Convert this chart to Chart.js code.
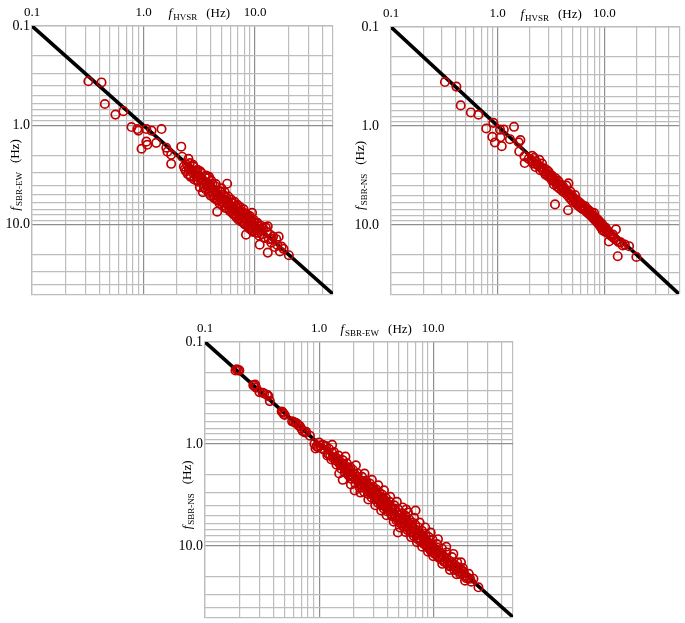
<!DOCTYPE html>
<html>
<head>
<meta charset="utf-8">
<script src="https://cdn.jsdelivr.net/npm/chart.js@4/dist/chart.umd.min.js"></script>
<style>
  body { margin: 0; background: #fff; }
  #wrap { position: relative; width: 685px; height: 623px; }
  canvas { position: absolute; }
</style>
</head>
<body>
<div id="wrap">
  <canvas id="chartA" width="340" height="300" style="left:0;top:0"></canvas>
  <canvas id="chartB" width="345" height="300" style="left:340px;top:0"></canvas>
  <canvas id="chartC" width="360" height="313" style="left:160px;top:310px"></canvas>
</div>
<script>
// log grid (0.1 .. 50 Hz) and the labelled ticks
const gridValues = [0.1, 0.2, 0.3, 0.4, 0.5, 0.6, 0.7, 0.8, 0.9,
  1, 2, 3, 4, 5, 6, 7, 8, 9, 10, 20, 30, 40, 50];
const tickValues = [0.1, 1, 10];
const tickLabels = ['0.1', '1.0', '10.0'];
const oneToOne = [0.1, 50];

// panel A: f_HVSR vs f_SBR-EW
const hvsrA = [0.32, 0.42, 0.45, 0.56, 0.66, 0.78, 0.88, 0.90, 1.06, 1.18, 1.45, 1.06, 0.96, 1.08, 1.30, 1.60, 1.64, 1.77, 2.18, 1.77, 2.22, 2.53,
  2.3, 2.4, 2.45, 2.5, 2.55, 2.6, 2.65, 2.7, 2.75, 2.8, 2.85, 2.9, 2.95, 3.0,
  3.05, 3.1, 3.15, 3.2, 3.25, 3.3, 3.4, 3.45, 3.5, 3.55, 3.6, 3.7, 3.75, 3.8, 3.87, 3.9, 3.95, 4.0,
  4.1, 4.15, 4.2, 4.3, 4.35, 4.4, 4.5, 4.58, 4.6, 4.7, 4.8, 4.85, 4.9, 5.0, 5.05, 5.1, 5.2, 5.3, 5.4, 5.5, 5.62,
  5.6, 5.7, 5.8, 5.9, 6.0, 6.1, 6.2, 6.3, 6.4, 6.5, 6.6, 6.7, 6.8, 6.9, 7.0, 7.1, 7.1, 7.3, 7.4, 7.5, 7.6, 7.8, 7.9, 8.0,
  8.1, 8.2, 8.3, 8.4, 8.5, 8.6, 8.8, 8.9, 9.0, 9.1, 9.3, 9.4, 9.5, 9.6, 9.8, 10.0, 10.2, 10.4, 10.6, 10.8, 11.0, 11.2, 11.5, 11.8, 12.0, 12.5, 12.8, 13.0, 13.0,
  13.3, 13.6, 14.0, 14.5, 15.0, 15.5, 16.3, 16.7, 17.3, 20.1,
  2.35, 2.62, 2.78, 3.02, 3.22, 3.48, 3.65, 3.85, 4.05, 4.25, 4.45, 4.65, 4.95, 5.15, 5.35, 5.55, 5.75, 5.95, 6.15, 6.35,
  6.55, 6.75, 6.95, 7.2, 7.4, 7.7, 7.9, 8.15, 8.45, 8.75, 9.05, 9.35, 9.7, 10.1, 10.5, 10.9, 11.4, 12.2, 14.2, 15.8, 18.0];
const sbrEwA = [0.36, 0.37, 0.61, 0.78, 0.72, 1.04, 1.09, 1.13, 1.09, 1.13, 1.09, 1.46, 1.72, 1.57, 1.50, 1.68, 1.84, 1.98, 1.64, 2.44, 2.07, 2.17,
  2.6, 2.9, 2.5, 3.1, 2.7, 2.4, 3.3, 2.8, 3.0, 2.6, 3.5, 3.1, 2.9, 3.3,
  2.8, 3.7, 3.2, 4.2, 3.4, 3.0, 4.7, 3.6, 3.9, 3.3, 4.4, 3.8, 4.1, 3.4, 3.3, 4.6, 4.0, 5.1,
  4.3, 3.9, 4.8, 5.4, 4.5, 4.1, 5.6, 7.4, 4.9, 5.2, 6.1, 4.6, 5.5, 4.3, 5.8, 6.4, 5.0, 5.6, 6.8, 5.3, 3.87,
  6.2, 5.9, 6.0, 7.0, 6.5, 5.6, 7.5, 6.8, 6.1, 7.9, 7.2, 6.6, 8.4, 7.4, 6.9, 7.6, 8.9, 8.1, 7.2, 9.3, 8.0, 7.6, 8.7, 9.8,
  8.3, 7.7, 12.6, 9.1, 10.2, 8.6, 9.5, 11.0, 8.2, 10.0, 9.0, 7.6, 10.6, 11.8, 9.4, 10.3, 11.3, 9.7, 12.1, 10.4, 15.9, 11.0, 12.5, 10.8, 13.4, 10.7, 11.9, 19.1, 10.4,
  14.0, 12.6, 15.2, 13.2, 16.8, 14.0, 13.2, 18.6, 16.6, 20.3,
  2.75, 3.2, 2.5, 3.6, 2.9, 4.2, 3.2, 4.8, 3.6, 5.1, 3.9, 5.7, 4.7, 6.0, 4.7, 6.7, 5.2, 7.3, 6.0, 7.8,
  5.9, 8.0, 6.3, 8.6, 6.7, 9.4, 7.0, 10.0, 7.9, 10.6, 8.6, 11.4, 8.9, 12.0, 9.6, 12.9, 10.3, 13.6, 13.9, 16.0, 17.5];

// panel B: f_HVSR vs f_SBR-NS
const hvsrB = [0.32, 0.41, 0.45, 0.56, 0.66, 0.91, 0.78, 1.05, 1.14, 1.42, 0.89, 0.94, 1.09, 1.06, 1.30, 1.57, 1.63, 1.59, 1.78, 1.79, 1.95,
  2.05, 2.1, 2.15, 2.2, 2.25, 2.3, 2.4, 2.45, 2.5, 2.55, 2.6, 2.7, 2.75, 2.8, 2.9, 2.95,
  3.0, 3.05, 3.1, 3.2, 3.25, 3.3, 3.35, 3.44, 3.5, 3.55, 3.6, 3.7, 3.8, 3.9, 4.0, 4.1, 4.2, 4.3, 4.4, 4.5,
  4.56, 4.6, 4.6, 4.7, 4.8, 4.9, 5.0, 5.1, 5.2, 5.3, 5.4, 5.5, 5.6, 5.8, 5.9, 6.0, 6.2, 6.3, 6.5, 6.6, 6.8, 7.0,
  7.1, 7.2, 7.4, 7.6, 7.8, 8.0, 8.0, 8.2, 8.4, 8.6, 8.8, 9.0, 9.1, 9.3, 9.5, 9.6, 9.8, 10.0, 10.2, 10.5,
  10.7, 11.0, 11.2, 11.6, 12.0, 12.4, 12.8, 13.0, 13.3, 13.6, 14.2, 14.8, 15.5, 17.0, 19.9,
  2.12, 2.35, 2.62, 2.85, 3.15, 3.42, 3.75, 4.05, 4.35, 4.65, 4.95, 5.25, 5.65, 6.05, 6.45, 6.9, 7.3, 7.7, 8.1, 8.5,
  8.9, 9.4, 9.9, 10.4, 11.4, 12.2];
const sbrNsB = [0.36, 0.40, 0.62, 0.73, 0.77, 0.93, 1.06, 1.09, 1.09, 1.02, 1.29, 1.47, 1.60, 1.30, 1.36, 1.46, 1.39, 1.81, 2.03, 2.37, 2.15,
  2.2, 2.0, 2.4, 2.1, 2.6, 2.3, 2.5, 2.2, 2.8, 2.6, 2.4, 2.9, 2.7, 3.1, 2.8, 3.2,
  2.9, 3.3, 3.1, 3.5, 3.2, 3.6, 3.9, 6.2, 3.4, 3.8, 4.1, 3.6, 4.3, 3.9, 4.5, 4.1, 4.7, 4.4, 4.0, 5.0,
  7.1, 3.8, 4.8, 5.3, 4.6, 5.6, 5.1, 5.9, 5.4, 5.0, 6.0, 5.6, 6.3, 5.9, 6.6, 6.1, 6.9, 6.4, 7.0, 6.5, 7.4, 7.0,
  7.7, 7.2, 8.0, 7.5, 8.5, 7.6, 8.2, 9.0, 8.6, 9.5, 9.0, 10.1, 9.4, 10.6, 9.8, 11.3, 10.4, 11.6, 10.6, 12.0,
  11.4, 14.7, 12.4, 13.0, 12.5, 13.8, 11.1, 14.3, 20.7, 14.9, 15.0, 16.1, 15.8, 16.4, 21.1,
  2.3, 2.45, 2.75, 3.0, 3.3, 3.55, 3.95, 4.25, 4.6, 4.9, 5.2, 5.6, 5.95, 6.4, 6.85, 7.25, 7.7, 8.1, 8.6, 9.1,
  9.6, 10.1, 10.8, 11.2, 12.6, 13.4];

// panel C: f_SBR-EW vs f_SBR-NS
const sbrEwC = [0.185, 0.19, 0.195, 0.2, 0.265, 0.27, 0.275, 0.28, 0.30, 0.32, 0.33, 0.35, 0.36, 0.37, 0.47, 0.48, 0.49, 0.50,
  0.58, 0.60, 0.62, 0.64, 0.66, 0.68, 0.70, 0.72, 0.75, 0.77, 0.83, 0.91, 0.95, 0.98, 1.0, 1.02, 1.05, 1.08, 0.93, 1.1,
  1.2, 1.25, 1.3, 1.33, 1.38, 1.4, 1.45, 1.5, 1.52, 1.55, 1.6, 1.61, 1.65, 1.7, 1.72, 1.78, 1.8, 1.85, 1.9, 1.95, 2.0,
  2.05, 2.05, 2.1, 2.15, 2.2, 2.25, 2.3, 2.35, 2.4, 2.45, 2.5, 2.55, 2.6, 2.65, 2.7, 2.75, 2.8, 2.85, 2.9, 2.95, 3.0, 3.05, 3.1, 3.15, 3.2, 3.25, 3.3, 3.4, 3.45,
  3.5, 3.55, 3.6, 3.65, 3.7, 3.75, 3.8, 3.9, 3.95, 4.0, 4.1, 4.2, 4.25, 4.3, 4.4, 4.5, 4.6, 4.7, 4.8, 4.9, 4.9, 5.0, 5.1, 5.2, 5.3, 5.4, 5.5, 5.6, 5.7, 5.8, 5.8,
  6.0, 6.1, 6.2, 6.4, 6.5, 6.6, 6.8, 7.0, 7.0, 7.1, 7.3, 7.4, 7.6, 7.8, 8.0, 8.2, 8.3, 8.5, 8.7, 8.9, 9.0, 9.2, 9.4, 9.6, 9.8, 10.0,
  10.2, 10.5, 10.7, 11.0, 11.2, 11.5, 11.8, 12.0, 12.3, 12.6, 13.0, 13.3, 13.7, 14.0, 14.5, 15.0, 15.5, 16.0, 16.5, 17.0, 17.5, 18.0, 18.5, 19.0, 20.0, 21.0, 24.9,
  1.15, 1.18, 1.22, 1.28, 1.35, 1.42, 1.48, 1.56, 1.62, 1.68, 1.75, 1.82, 1.88, 1.92, 1.98,
  2.08, 2.18, 2.28, 2.38, 2.48, 2.58, 2.68, 2.78, 2.88, 2.98, 3.08, 3.18, 3.28, 3.38, 3.48,
  3.58, 3.68, 3.85, 3.98, 4.15, 4.35, 4.55, 4.75, 4.95, 5.15, 5.35, 5.55, 5.75, 5.95,
  6.15, 6.35, 6.55, 6.75, 6.95, 7.2, 7.45, 7.7, 7.95, 8.25, 8.55, 8.85, 9.15, 9.5, 9.85, 10.3,
  10.8, 11.3, 11.9, 12.5, 13.1, 13.8, 14.6, 15.3, 16.2, 17.2, 18.2, 19.5, 20.5, 21.5, 22.5,
  1.3, 1.5, 1.7, 1.9, 2.1, 2.3, 2.5, 2.7, 2.9, 3.1, 3.3, 3.5, 3.7, 3.9, 4.2, 4.5, 4.8, 5.1, 5.4,
  5.7, 6.0, 6.4, 6.8, 7.2, 7.6, 8.0, 8.5, 9.0, 9.5, 10.0, 11.0, 12.0, 13.0, 14.0, 15.0, 16.0, 17.5, 19.0];
const sbrNsC = [0.19, 0.185, 0.19, 0.19, 0.265, 0.27, 0.262, 0.28, 0.31, 0.315, 0.32, 0.33, 0.34, 0.38, 0.48, 0.49, 0.51, 0.52,
  0.6, 0.61, 0.62, 0.63, 0.66, 0.67, 0.71, 0.75, 0.77, 0.76, 0.83, 1.0, 1.05, 1.08, 0.97, 1.04, 1.1, 1.02, 1.11, 1.14,
  1.25, 1.3, 1.22, 1.38, 1.35, 1.45, 1.4, 1.55, 1.48, 1.62, 1.57, 2.25, 1.7, 1.66, 1.8, 1.75, 1.9, 1.82, 2.0, 1.92, 2.1,
  2.86, 1.98, 2.2, 2.1, 2.35, 2.25, 2.5, 2.3, 2.55, 2.4, 2.7, 2.55, 2.45, 2.85, 2.7, 2.6, 3.0, 2.8, 3.1, 2.75, 3.2, 3.0, 2.9, 3.35, 3.1, 3.5, 3.2, 3.6, 3.3,
  3.8, 3.5, 3.4, 3.9, 3.7, 4.1, 3.6, 4.2, 3.9, 4.4, 4.0, 4.6, 4.2, 4.9, 4.4, 4.8, 4.3, 5.2, 4.7, 7.4, 5.5, 5.0, 5.6, 5.3, 6.0, 5.4, 5.9, 5.5, 6.3, 4.4, 5.9,
  6.5, 6.0, 6.9, 6.4, 7.2, 6.7, 7.5, 4.5, 7.0, 7.9, 7.4, 8.3, 7.7, 8.7, 8.0, 9.1, 8.4, 9.6, 8.8, 10.0, 9.2, 10.5, 9.6, 11.0, 10.1, 11.5,
  10.5, 12.0, 11.0, 12.6, 11.5, 13.1, 12.0, 13.7, 12.6, 14.2, 13.2, 14.8, 13.9, 15.5, 14.8, 16.0, 15.4, 17.0, 16.2, 17.8, 17.0, 18.8, 18.0, 19.5, 20.5, 21.0, 25.5,
  1.05, 1.3, 1.12, 1.42, 1.2, 1.6, 1.3, 1.75, 1.45, 1.9, 1.55, 2.05, 1.7, 2.2, 1.8,
  2.45, 1.95, 2.7, 2.1, 2.95, 2.3, 3.1, 2.45, 3.35, 2.65, 3.5, 2.8, 3.8, 3.0, 4.0,
  3.15, 4.3, 3.4, 4.6, 3.7, 5.1, 4.0, 5.6, 4.4, 6.0, 4.8, 6.5, 5.1, 7.0,
  5.5, 7.4, 5.9, 8.0, 6.2, 8.5, 6.6, 9.0, 7.1, 9.6, 7.6, 10.3, 8.2, 11.2, 8.7, 12.0,
  9.6, 13.2, 10.6, 14.4, 11.6, 15.8, 12.9, 17.2, 14.5, 18.9, 16.5, 20.8, 18.8, 22.5, 21.0,
  1.02, 1.95, 1.33, 2.5, 1.62, 3.0, 1.95, 3.5, 2.25, 4.0, 2.55, 4.5, 2.85, 5.0, 3.3, 5.8, 3.7, 6.6, 4.2,
  7.3, 4.7, 8.2, 5.3, 9.2, 5.9, 10.2, 6.6, 11.4, 7.4, 12.6, 8.6, 15.0, 10.2, 17.2, 12.0, 19.0, 14.5, 22.0];

const gridMajor = '#8e8e8e';
const gridMinor = '#bdbdbd';
const serif = '"Liberation Serif", "DejaVu Serif", serif';

function pairs(xs, ys) {
  return xs.map((v, i) => ({ x: v, y: ys[i] }));
}

function drawTitle(ctx, sub, cx, cy, rot) {
  const big = '13px ' + serif;
  const ital = 'italic 13px ' + serif;
  const small = '9px ' + serif;
  ctx.save();
  ctx.font = ital; const wf = ctx.measureText('f').width;
  ctx.font = small; const ws = ctx.measureText(sub).width;
  ctx.font = big; const wh = ctx.measureText('(Hz)').width;
  const gap = 9;
  const total = wf + 1 + ws + gap + wh;
  ctx.translate(cx, cy);
  ctx.rotate(rot);
  ctx.fillStyle = '#000';
  ctx.textBaseline = 'alphabetic';
  ctx.textAlign = 'left';
  let x0 = -total / 2;
  ctx.font = ital; ctx.fillText('f', x0, 0);
  x0 += wf + 1;
  ctx.font = small; ctx.fillText(sub, x0, 3);
  x0 += ws + gap;
  ctx.font = big; ctx.fillText('(Hz)', x0, 0);
  ctx.restore();
}

const axisTitles = {
  id: 'axisTitles',
  afterDraw(chart, args, opts) {
    const { ctx, chartArea, scales } = chart;
    const mid = Math.sqrt(10);
    drawTitle(ctx, opts.xSub, scales.x.getPixelForValue(mid), chartArea.top - 9, 0);
    drawTitle(ctx, opts.ySub, chartArea.left - opts.yGap, scales.y.getPixelForValue(mid), -Math.PI / 2);
  }
};

function logAxis(pos, size, pad, fontSize) {
  return {
    type: 'logarithmic',
    position: pos,
    min: 0.1,
    max: 50,
    reverse: pos === 'left',
    afterBuildTicks: (scale) => { scale.ticks = gridValues.map(v => ({ value: v })); },
    afterFit: (scale) => {
      if (pos === 'left') scale.width = size; else scale.height = size;
      // labels may overhang the plot; don't let them shrink it
      scale.paddingTop = 0; scale.paddingBottom = 0;
      scale.paddingLeft = 0; scale.paddingRight = 0;
    },
    ticks: {
      autoSkip: false,
      maxRotation: 0,
      padding: pad,
      color: '#000',
      font: { family: serif, size: fontSize },
      callback: (v) => {
        const k = tickValues.indexOf(v);
        return k >= 0 ? tickLabels[k] : '';
      }
    },
    grid: {
      drawTicks: false,
      color: (c) => tickValues.includes(c.tick && c.tick.value) ? gridMajor : gridMinor,
      lineWidth: 1.2
    },
    border: { display: true, color: gridMinor, width: 1.2 }
  };
}

function makeChart(id, xs, ys, cfg) {
  new Chart(document.getElementById(id), {
    type: 'scatter',
    data: {
      datasets: [
        {
          label: 'data',
          data: pairs(xs, ys),
          pointRadius: 4.2,
          pointBorderWidth: 1.7,
          pointBorderColor: '#c00000',
          pointBackgroundColor: 'rgba(0,0,0,0)',
          showLine: false
        },
        {
          label: '1:1',
          data: pairs(oneToOne, oneToOne),
          showLine: true,
          borderColor: '#000',
          borderWidth: 3.6,
          pointRadius: 0
        }
      ]
    },
    options: {
      responsive: false,
      animation: false,
      devicePixelRatio: 1,
      layout: { padding: { left: 0, top: 0, right: cfg.right, bottom: cfg.bottom } },
      plugins: {
        legend: { display: false },
        tooltip: { enabled: false },
        axisTitles: { xSub: cfg.xSub, ySub: cfg.ySub, yGap: cfg.yGap }
      },
      scales: {
        x: logAxis('top', cfg.top, 6, 13),
        y: logAxis('left', cfg.left, cfg.yPad, 14)
      }
    },
    plugins: [axisTitles]
  });
}

makeChart('chartA', hvsrA, sbrEwA, { left: 32, top: 26, right: 7, bottom: 5, yPad: 2, yGap: 13, xSub: 'HVSR', ySub: 'SBR-EW' });
makeChart('chartB', hvsrB, sbrNsB, { left: 51, top: 27, right: 3, bottom: 5, yPad: 12, yGap: 27, xSub: 'HVSR', ySub: 'SBR-NS' });
makeChart('chartC', sbrEwC, sbrNsC, { left: 45, top: 32, right: 7, bottom: 3, yPad: 2, yGap: 14, xSub: 'SBR-EW', ySub: 'SBR-NS' });
</script>
</body>
</html>
